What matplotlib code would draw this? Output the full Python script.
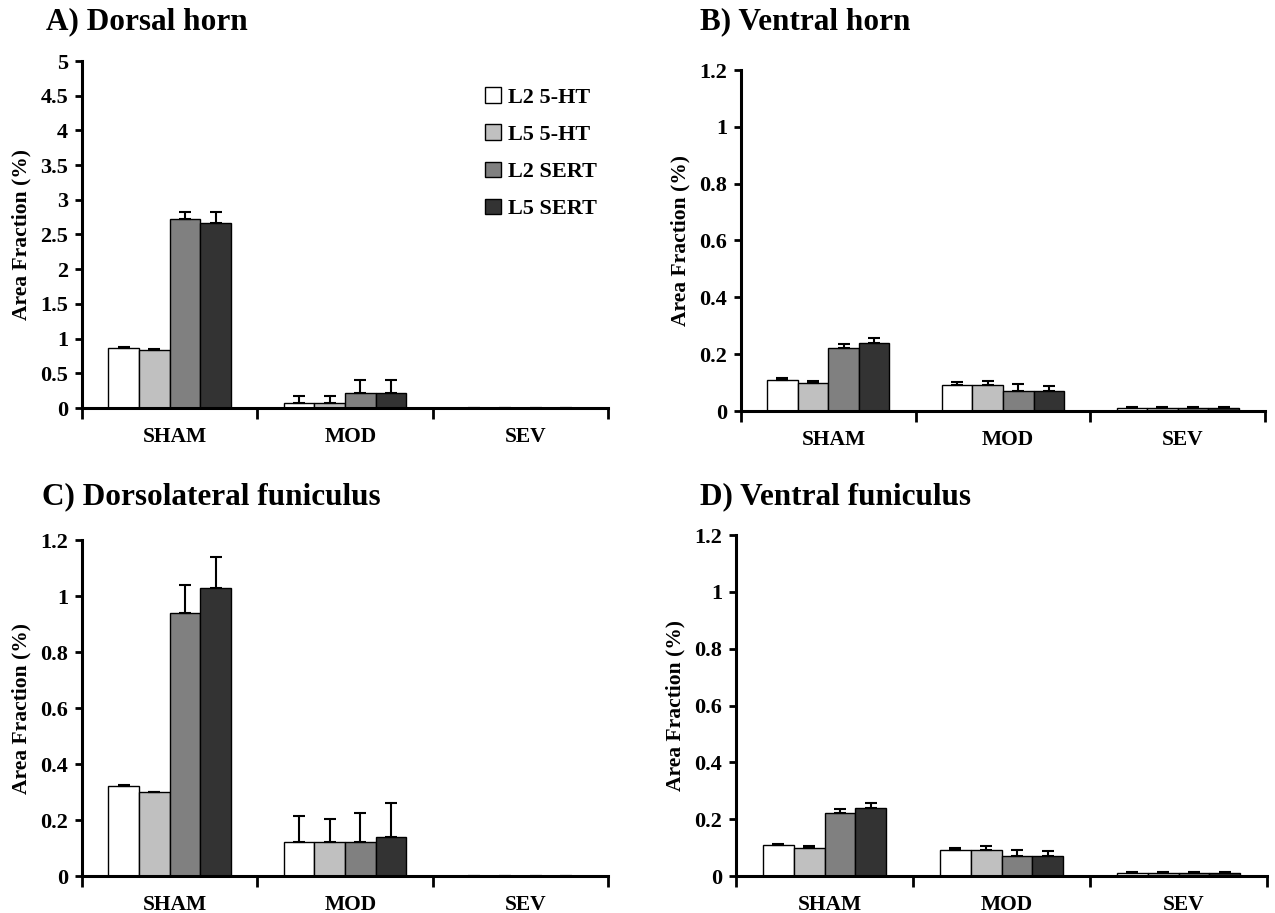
import numpy as np
import matplotlib
matplotlib.use('Agg')
import matplotlib.pyplot as plt

plt.rcParams['font.family'] = ['Liberation Serif', 'DejaVu Serif']
plt.rcParams['font.weight'] = 'bold'

groups = ['SHAM', 'MOD', 'SEV']
series = ['L2 5-HT', 'L5 5-HT', 'L2 SERT', 'L5 SERT']
colors = ['#ffffff', '#c0c0c0', '#808080', '#333333']

# valores: linhas = séries, colunas = grupos
dorsal_horn = [[0.87, 0.07, 0.0], [0.83, 0.07, 0.0], [2.72, 0.22, 0.0], [2.66, 0.21, 0.0]]
dorsal_horn_err = [[0.01, 0.10, 0.0], [0.02, 0.10, 0.0], [0.11, 0.19, 0.0], [0.17, 0.20, 0.0]]

ventral_horn = [[0.11, 0.09, 0.01], [0.10, 0.09, 0.01], [0.22, 0.07, 0.01], [0.24, 0.07, 0.01]]
ventral_horn_err = [[0.005, 0.012, 0.005], [0.005, 0.016, 0.005], [0.016, 0.024, 0.005], [0.016, 0.019, 0.005]]

dl_funiculus = [[0.32, 0.12, 0.0], [0.30, 0.12, 0.0], [0.94, 0.12, 0.0], [1.03, 0.14, 0.0]]
dl_funiculus_err = [[0.004, 0.095, 0.0], [0.0, 0.085, 0.0], [0.10, 0.105, 0.0], [0.11, 0.12, 0.0]]

v_funiculus = [[0.11, 0.09, 0.01], [0.10, 0.09, 0.01], [0.22, 0.07, 0.01], [0.24, 0.07, 0.01]]
v_funiculus_err = [[0.003, 0.010, 0.005], [0.006, 0.017, 0.005], [0.017, 0.023, 0.005], [0.016, 0.017, 0.005]]

panels = [
    ('A) Dorsal horn', dorsal_horn, dorsal_horn_err, 5, 0.5,
     [82, 61, 608, 408], (46, 22)),
    ('B) Ventral horn', ventral_horn, ventral_horn_err, 1.2, 0.2,
     [741, 70, 1265, 411], (700, 22)),
    ('C) Dorsolateral funiculus', dl_funiculus, dl_funiculus_err, 1.2, 0.2,
     [82, 540, 608, 876], (42, 497)),
    ('D) Ventral funiculus', v_funiculus, v_funiculus_err, 1.2, 0.2,
     [736, 535, 1267, 876], (700, 497)),
]

W, H = 1275, 913
fig = plt.figure(figsize=(W / 100, H / 100), dpi=100)

bw = 0.175
for k, (title, vals, errs, ymax, step, box, tpos) in enumerate(panels):
    x0, y0, x1, y1 = box
    ax = fig.add_axes([x0 / W, 1 - y1 / H, (x1 - x0) / W, (y1 - y0) / H])
    centers = np.arange(len(groups)) + 0.5
    for i, s in enumerate(series):
        v = np.array(vals[i])
        e = np.array(errs[i])
        ax.bar(centers + (i - 1.5) * bw, v, bw, color=colors[i], edgecolor='black',
               linewidth=1.0, label=s,
               yerr=[np.zeros_like(e), e],
               error_kw=dict(ecolor='black', elinewidth=1.5, capsize=4, capthick=1.5))
    ax.set_xlim(0, 3)
    ax.set_ylim(0, ymax)
    ticks = np.arange(0, ymax + step / 2, step)
    ax.set_yticks(ticks)
    ax.set_yticklabels(['%g' % t for t in ticks])
    ax.set_xticks([0, 1, 2, 3])
    ax.set_xticklabels([])
    for c, g in zip(centers, groups):
        ax.text(c + 0.03, -0.085, g, transform=ax.get_xaxis_transform(), ha='center',
                va='center', fontsize=15.5, fontweight='bold')
    ax.spines['top'].set_visible(False)
    ax.spines['right'].set_visible(False)
    ax.spines['left'].set_linewidth(2.2)
    ax.spines['bottom'].set_linewidth(2.2)
    ax.tick_params(axis='y', direction='out', length=5, width=2, labelsize=16, pad=5)
    ax.tick_params(axis='x', direction='out', length=8, width=2)
    ax.set_ylabel('Area Fraction (%)', fontsize=15.5, fontweight='bold', labelpad=6)
    fig.text(tpos[0] / W, 1 - tpos[1] / H, title, fontsize=22.5, fontweight='bold',
             ha='left', va='center')
    if k == 0:
        ax.legend(loc='upper left', bbox_to_anchor=(0.75, 0.95), frameon=False,
                  fontsize=16, handlelength=0.7, handleheight=0.7,
                  handletextpad=0.3, labelspacing=0.75, borderaxespad=0)

fig.savefig('out.png', dpi=100)
